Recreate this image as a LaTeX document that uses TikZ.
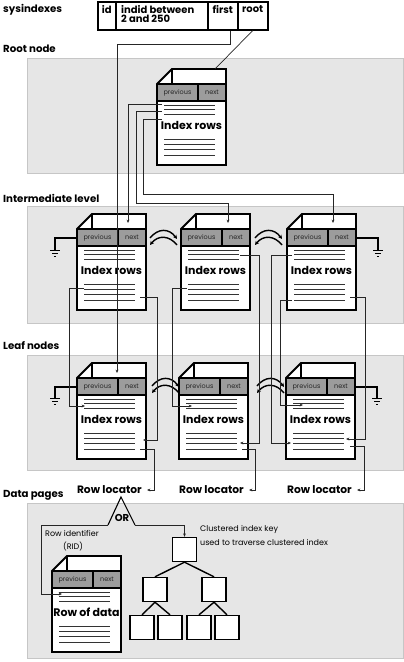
\documentclass[tikz,border=0pt]{standalone}
\usepackage{fontspec}
\setmainfont{Poppins}
\usetikzlibrary{arrows.meta,calc}
\definecolor{panel}{HTML}{E6E6E6}
\definecolor{panelline}{HTML}{C6C6C6}
\definecolor{hdr}{HTML}{9C9C9C}
\tikzset{
  panelbox/.style={fill=panel, draw=panelline, line width=0.8pt},
  pageline/.style={line width=1.8pt, line join=miter},
  txtline/.style={line width=0.9pt, draw=black!80},
  conn/.style={line width=0.7pt, draw=black!85},
  arr/.style={conn, -{Stealth[length=3.4pt,width=2.8pt]}},
  gndline/.style={line width=1.2pt},
  link/.style={line width=1.4pt, -{Stealth[length=4pt,width=4pt]}},
  lbl/.style={font=\fontsize{10}{10.5}\selectfont\bfseries, inner sep=0pt},
  pagelbl/.style={font=\fontsize{11}{12}\selectfont\bfseries, inner sep=0pt},
  loclbl/.style={font=\fontsize{10.7}{12}\selectfont\bfseries, inner sep=0pt, anchor=east},
  title/.style={font=\fontsize{10.2}{11}\selectfont\bfseries, inner sep=0pt, anchor=west},
  small/.style={font=\fontsize{6.5}{7}\selectfont, inner sep=0pt, text=black!85},
  note/.style={font=\fontsize{8}{9}\selectfont, inner sep=0pt, anchor=west},
  cell/.style={draw, line width=1.5pt, fill=white, anchor=north west, minimum height=28pt, inner sep=0pt},
  sq/.style={draw, line width=1.4pt, fill=white, minimum size=24pt, inner sep=0pt},
  treeedge/.style={line width=1.4pt},
  docpage/.pic={
    \fill[white] (0,15) -- (15,0) -- (69,0) -- (69,96) -- (0,96) -- cycle;
    \fill[hdr] (0,15) rectangle (69,32);
    \draw[pageline] (0,15) -- (15,0) -- (69,0) -- (69,96) -- (0,96) -- cycle;
    \draw[pageline] (15,0) -- (15,15);
    \draw[pageline] (0,15) -- (69,15);
    \draw[pageline] (0,32) -- (69,32);
    \draw[pageline] (41,15) -- (41,32);
    \node[small] at (20.5,23.5) {previous};
    \node[small] at (55,23.5) {next};
    \foreach \yy in {36,40.5,45} {\draw[txtline] (7,\yy) -- (58,\yy);}
    \node[pagelbl] at (34.5,56) {#1};
    \foreach \yy in {70,75,80,86} {\draw[txtline] (7,\yy) -- (58,\yy);}
  },
  ground/.pic={
    \draw[line width=1pt] (-5,0) -- (5,0);
    \draw[line width=1pt] (-3,3) -- (3,3);
    \draw[line width=1pt] (-1.2,6) -- (1.2,6);
  }
}
\newcommand\linkpair[2]{%
  \draw[link] (#1,#2) .. controls (#1+8,#2-10) and (#1+19,#2-10) .. (#1+27,#2+1);
  \draw[link] (#1+27,#2+7) .. controls (#1+19,#2-3) and (#1+8,#2-3) .. (#1,#2+7);
}
\begin{document}
\begin{tikzpicture}[x=1pt,y=-1pt]
\useasboundingbox (0,0) rectangle (404,662);
% panels
\draw[panelbox] (27,58) rectangle (403,173);
\draw[panelbox] (27,206) rectangle (403,323);
\draw[panelbox] (27,355) rectangle (403,470);
\draw[panelbox] (27,503) rectangle (403,658);
% titles
\node[title] (tsys) at (3,10) {sysindexes};
\node[title] (troot) at (3,49) {Root node};
\node[title] (tint) at (3,198) {Intermediate level};
\node[title] (tleaf) at (3,346) {Leaf nodes};
\node[title] (tdata) at (3,495) {Data pages};
% sysindexes table
\node[cell, minimum width=18pt] (cid) at (97,1) {};
\node[cell, minimum width=92pt] (cindid) at (115,1) {};
\node[cell, minimum width=30pt] (cfirst) at (207,1) {};
\node[cell, minimum width=30pt] (croot) at (237,1) {};
\node[lbl, anchor=north] (tid) at ($(cid.north)+(0,4.5)$) {id};
\node[lbl, anchor=north west, align=left] (tindid) at ($(cindid.north west)+(6,4.5)$) {indid between\\[-1.5pt]2 and 250};
\node[lbl, anchor=north] (tfirst) at ($(cfirst.north)+(0,4.5)$) {first};
\node[lbl, anchor=north] (troottxt) at ($(croot.north)+(0,4.5)$) {root};
% page origins
\coordinate (R) at (157,69);
\coordinate (I1) at (77,214);
\coordinate (I2) at (181,214);
\coordinate (I3) at (287,214);
\coordinate (L1) at (77,363);
\coordinate (L2) at (179,363);
\coordinate (L3) at (286,363);
\coordinate (D) at (52,556);
% pages
\pic at (R) {docpage={Index rows}};
\pic at (I1) {docpage={Index rows}};
\pic at (I2) {docpage={Index rows}};
\pic at (I3) {docpage={Index rows}};
\pic at (L1) {docpage={Index rows}};
\pic at (L2) {docpage={Index rows}};
\pic at (L3) {docpage={Index rows}};
\pic at (D) {docpage={Row of data}};
% prev/next links
\linkpair{150}{238}
\linkpair{255}{238}
\linkpair{152}{386}
\linkpair{257}{386}
% grounds
\draw[gndline] ($(I1)+(0,24)$) -- ++(-22,0) -- ++(0,12) coordinate (g1);
\pic at (g1) {ground};
\draw[gndline] ($(I3)+(69,24)$) -- ++(22,0) -- ++(0,12) coordinate (g2);
\pic at (g2) {ground};
\draw[gndline] ($(L1)+(0,24)$) -- ++(-22,0) -- ++(0,11) coordinate (g3);
\pic at (g3) {ground};
\draw[gndline] ($(L3)+(69,24)$) -- ++(22,0) -- ++(0,11) coordinate (g4);
\pic at (g4) {ground};
% sysindexes pointers
\draw[arr] ($(cfirst.south)+(8,0)$) -- ++(0,14) -| ($(L1)+(40,10)$);
\draw[conn] (croot.south) -- ($(R)+(58,0)$);
% root pointers
\draw[arr] ($(R)+(5,35)$) -| ($(I1)+(51,9)$);
\draw[arr] ($(R)+(5,42)$) -- ($(R)+(-21,42)$) -- ($(R)+(-21,134)$) -| ($(I2)+(47,9)$);
\draw[arr] ($(R)+(5,50)$) -- ($(R)+(-14,50)$) -- ($(R)+(-14,125)$) -| ($(I3)+(46,9)$);
% intermediate pointers
\draw[arr] ($(I1)+(7,74)$) -- ($(I1)+(-8,74)$) |- ($(L1)+(8,43)$);
\draw[arr] ($(I1)+(63,83)$) -- ($(I1)+(80,83)$) |- ($(L1)+(66,77)$);
\draw[arr] ($(I2)+(59,41)$) -- ($(I2)+(78,41)$) |- ($(L2)+(61,80)$);
\draw[arr] ($(I2)+(6,74)$) -- ($(I2)+(-9,74)$) |- ($(L2)+(13,43)$);
\draw[arr] ($(I3)+(5,41)$) -- ($(I3)+(-16,41)$) |- ($(L3)+(5,80)$);
\draw[arr] ($(I3)+(5,86)$) -- ($(I3)+(-7,86)$) |- ($(L3)+(17,42)$);
\draw[arr] ($(I3)+(63,83)$) -- ($(I3)+(78,83)$) |- ($(L3)+(60,76)$);
% row locators
\node[loclbl] (rl1) at (142,490) {Row locator};
\node[loclbl] (rl2) at (244,490) {Row locator};
\node[loclbl] (rl3) at (352,490) {Row locator};
\draw[arr] ($(L1)+(63,86)$) -- ($(L1)+(77,86)$) |- ($(rl1.east)+(5,0)$);
\draw[arr] ($(L2)+(63,86)$) -- ($(L2)+(76,86)$) |- ($(rl2.east)+(5,0)$);
\draw[arr] ($(L3)+(64,83)$) -- ($(L3)+(78,83)$) |- ($(rl3.east)+(5,0)$);
% OR
\coordinate (orA) at (121,497);
\coordinate (orL) at (108,525);
\coordinate (orR) at (135,525);
\draw[line width=1.1pt] (orL) -- (orA) -- (orR);
\node[lbl] (ortext) at (122,518) {OR};
% clustered index tree
\node[sq] (tr0) at (184.5,549.5) {};
\node[sq] (trl) at (155,589.5) {};
\node[sq] (trr) at (214,589.5) {};
\node[sq] (trl1) at (142,627.5) {};
\node[sq] (trl2) at (170,627.5) {};
\node[sq] (trr1) at (199,627.5) {};
\node[sq] (trr2) at (227,627.5) {};
\draw[treeedge] (tr0.south) -- (trl.north);
\draw[treeedge] (tr0.south) -- (trr.north);
\draw[treeedge] (trl.south) -- (trl1.north);
\draw[treeedge] (trl.south) -- (trl2.north);
\draw[treeedge] (trr.south) -- (trr1.north);
\draw[treeedge] (trr.south) -- (trr2.north);
\draw[arr] (orL) -- (41,525) |- ($(D)+(10,38)$);
\draw[arr] (orR) -| (tr0.north);
\node[note] (rid1) at (45,533) {Row identifier};
\node[note] (rid2) at (63,547) {(RID)};
\node[note] (ck1) at (200,529) {Clustered index key};
\node[note] (ck2) at (200,542) {used to traverse clustered index};
\end{tikzpicture}
\end{document}
